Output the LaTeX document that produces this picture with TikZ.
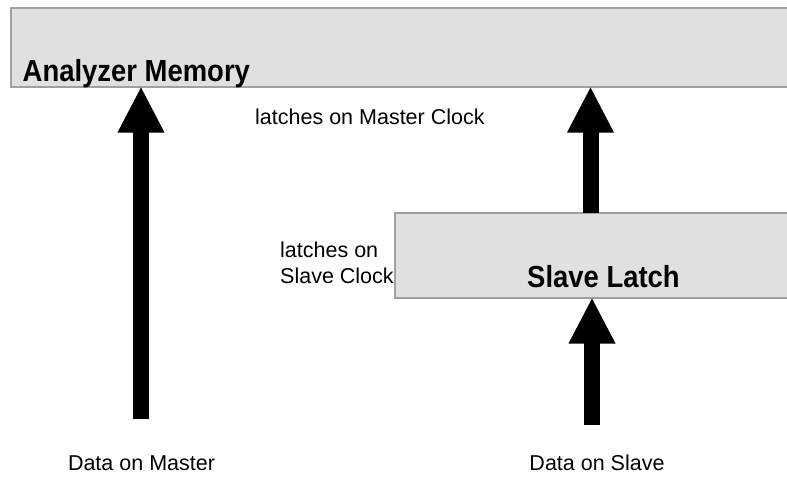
\documentclass[tikz,border=0pt]{standalone}
\usepackage{fontspec}
\setmainfont{Liberation Sans}
\newfontfamily\boldnarrow[FakeStretch=0.9]{Liberation Sans Bold}
\usetikzlibrary{calc}
\definecolor{boxfill}{HTML}{E0E0E0}
\definecolor{boxline}{HTML}{A0A0A0}
\tikzset{
  panel/.style={draw=boxline, line width=1.2pt, fill=boxfill},
  title/.style={inner sep=0pt, anchor=base west, font=\boldnarrow\fontsize{30.5}{32}\selectfont},
  lbl/.style={inner sep=0pt, font=\fontsize{21.5}{26}\selectfont},
  shaft/.style={line width=16pt, line cap=butt},
  head/.style={fill=black}
}
\newcommand{\bigarrow}[2]{%
  \draw[shaft] (#1) -- ($(#2)+(0,44)$);
  \fill[head] (#2) -- ($(#2)+(-23.5,45)$) -- ($(#2)+(23.5,45)$) -- cycle;}
\begin{document}
\begin{tikzpicture}[x=1pt,y=-1pt]
\useasboundingbox (0,0) rectangle (787,483);
\begin{scope}
\clip (0,0) rectangle (787,483);
% Analyzer Memory box
\draw[panel] (11,8) rectangle (800,87);
\node[title] (memtxt) at (22.5,81.5) {Analyzer Memory};
% Slave Latch box
\draw[panel] (395,213) rectangle (800,298);
\node[title] (slvtxt) at (527,287) {Slave Latch};
\end{scope}
% coordinates
\coordinate (m1) at (141,419);
\coordinate (m1t) at (141,87.5);
\coordinate (s1) at (592,425);
\coordinate (s1t) at (592,298.5);
\coordinate (s2) at (590.5,213);
\coordinate (s2t) at (590.5,87.5);
% arrows
\bigarrow{m1}{m1t}
\bigarrow{s1}{s1t}
\bigarrow{s2}{s2t}
% labels
\node[lbl, anchor=base west] (lm) at (255,124) {latches on Master Clock};
\node[lbl, anchor=base west] (ls1) at (280,257) {latches on};
\node[lbl, anchor=base west] (ls2) at (280,283) {Slave Clock};
\node[lbl, anchor=base] (dm) at (141.5,470) {Data on Master};
\node[lbl, anchor=base] (ds) at (597,470) {Data on Slave};
\end{tikzpicture}
\end{document}
